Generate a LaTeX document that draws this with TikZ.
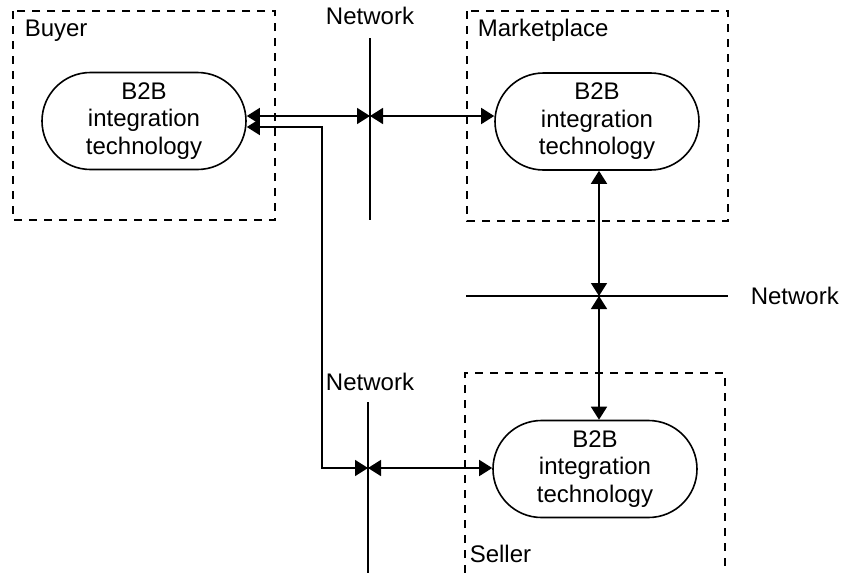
\documentclass[tikz,border=0pt]{standalone}
\usepackage{fontspec}
\setmainfont{Liberation Sans}
\usetikzlibrary{arrows.meta,shapes.misc}
\begin{document}
\begin{tikzpicture}[x=0.5pt,y=-0.5pt,line width=0.8pt,
	zone/.style={dash pattern=on 4pt off 3.5pt,line width=0.6pt},
	b2b/.style={draw,rounded rectangle,minimum width=102pt,minimum height=48.5pt,inner sep=0pt,align=center,font=\fontsize{12}{13.8}\selectfont},
	lbl/.style={font=\fontsize{12}{13.8}\selectfont,inner sep=0pt},
	link/.style={{Triangle[length=6.5pt,width=8pt]}-{Triangle[length=6.5pt,width=8pt]}}]
	\useasboundingbox (0,0) rectangle (841,573);
		\draw[zone] (13,11) rectangle (275,220);
		\draw[zone] (467,11) rectangle (728,221);
		\draw[zone] (465,573) |- (725,373) -- (725,573);
		\node[lbl,anchor=base west] (buyer) at (24,36) {Buyer};
		\node[lbl,anchor=base west] (market) at (477,36) {Marketplace};
		\node[lbl,anchor=base west] (seller) at (469,562) {Seller};
		\foreach \n/\x/\y in {buy/144/121, mkt/597/121.5, sel/595/469}
				{\node[b2b] (\n) at (\x,\y) {B2B\\integration\\technology};}
		\foreach \n/\x/\y/\a in {neta/370/25/base, netb/370/390/base, netc/750/304/base west}
				{\node[lbl,anchor=\a] (\n) at (\x,\y) {Network};}
		\draw (370,38) -- (370,220);
		\draw (368,402) -- (368,573);
		\draw (466,296) -- (728,296);
		\coordinate (pa) at (370,116);
		\coordinate (pb) at (322,127);
		\coordinate (pc) at (368,468);
		\coordinate (pd) at (599,296);
		\draw[link] (pa -| buy.east) -- (pa);
		\draw[link] (pa) -- (pa -| mkt.west);
		\draw[link] (pb -| buy.east) -- (pb) |- (pc);
		\draw[link] (pc) -- (pc -| sel.west);
		\draw[link] (pd |- mkt.south) -- (pd);
		\draw[link] (pd) -- (pd |- sel.north);
\end{tikzpicture}
\end{document}
